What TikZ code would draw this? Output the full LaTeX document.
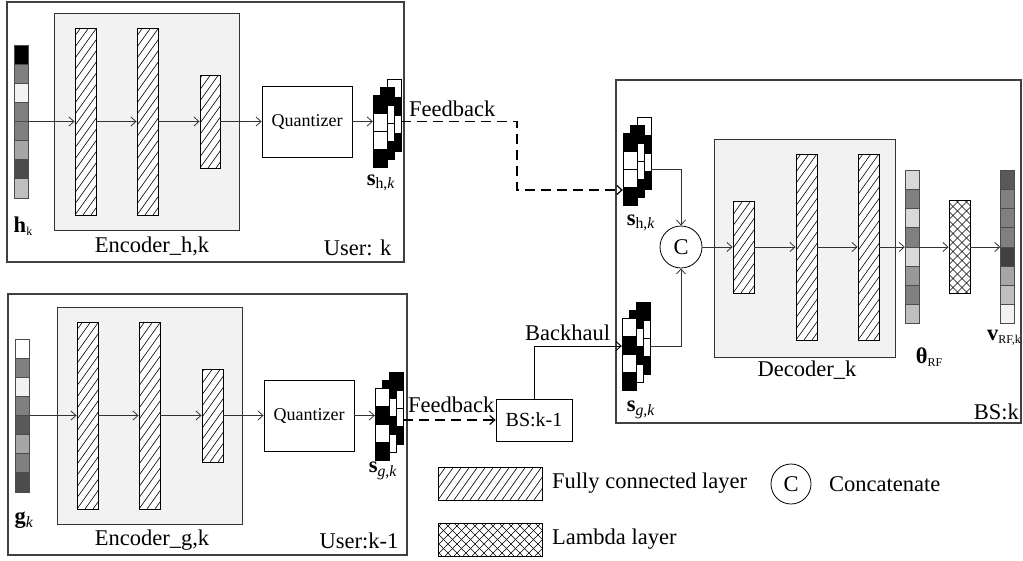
\documentclass[tikz,border=0pt]{standalone}
\usepackage{fontspec}
\setmainfont{Liberation Serif}
\usetikzlibrary{calc,arrows.meta}

% grey column vector: name, centre x, centre y, shades (percent black)
\newcommand{\graybar}[4]{%
    \node[bar] (#1) at (#2,#3) {};
    \foreach \s [count=\i from 0] in {#4}
        \filldraw[fill=black!\s, draw=black!70, line width=0.6pt]
            ($(#1.north west)+(0,{\i*19.125})$) rectangle ++(14,19.125);
}

% one column of a codeword: name, left x, top y, cells (0 = white, 100 = black)
\newcommand{\cwcol}[4]{%
    \node[cwcol] (#1) at ({#2+7},{#3+36}) {};
    \foreach \c [count=\i from 0] in {#4}
        \filldraw[fill=black!\c, draw=black, line width=0.6pt]
            ($(#1.north west)+(0,{\i*18})$) rectangle ++(14,18);
}

% stacked codeword: name, left x, top y, front, middle, back cells
\newcommand{\codeword}[6]{%
    \cwcol{#1b}{#2+14}{#3-16}{#6}
    \cwcol{#1m}{#2+7}{#3-8}{#5}
    \cwcol{#1}{#2}{#3}{#4}
}

\newcommand{\tinysub}[1]{\raisebox{-3pt}{\fontsize{12}{12}\selectfont #1}}

\begin{document}
\begin{tikzpicture}[
    x=1pt,
    y=-1pt,
    font=\fontsize{22.5}{26}\selectfont,
    frame/.style={
        draw=black!75,
        line width=1.3pt
    },
    encbox/.style={
        draw=black!80,
        fill=black!5,
        line width=0.9pt
    },
    fclayer/.style={
        draw=black,
        line width=0.9pt,
        inner sep=0pt,
        fill=white,
        path picture={
            \foreach \k in {0,...,40}
                \draw[line width=0.6pt]
                    ([xshift={\k*8-160}]path picture bounding box.south west)
                    -- ++(200,-280);
        }
    },
    lambdalayer/.style={
        draw=black,
        line width=0.9pt,
        inner sep=0pt,
        fill=white,
        path picture={
            \foreach \k in {0,...,40} {
                \draw[line width=0.6pt]
                    ([xshift={\k*9-200}]path picture bounding box.south west)
                    -- ++(200,-200);
                \draw[line width=0.6pt]
                    ([xshift={\k*9-200}]path picture bounding box.north west)
                    -- ++(200,200);
            }
        }
    },
    quant/.style={
        draw,
        line width=0.8pt,
        minimum width=90pt,
        minimum height=71pt,
        inner sep=0pt,
        font=\fontsize{18}{20}\selectfont
    },
    bar/.style={
        minimum width=14pt,
        minimum height=153pt,
        inner sep=0pt
    },
    cwcol/.style={
        minimum width=14pt,
        minimum height=72pt,
        inner sep=0pt
    },
    flow/.style={
        draw=black!80,
        line width=0.8pt,
        -{Straight Barb[length=5pt,width=9pt]}
    },
    fb/.style={
        flow,
        draw=black,
        line width=1.2pt,
        dash pattern=on 10pt off 6pt
    },
    catnode/.style={
        circle,
        draw,
        line width=0.8pt,
        minimum size=42pt,
        inner sep=0pt
    }
]

\useasboundingbox (0,0) rectangle (1023,560);

% -------------------------------------------------
% User k
% -------------------------------------------------

\draw[frame] (7,2) rectangle (404,262);
\draw[encbox] (54,13) rectangle (239,230);
\node at (152,246) {Encoder\_h,k};
\node[anchor=base east] at (395,255) {User: k};

\graybar{hk}{21}{121.5}{100,50,5,50,50,35,70,25}
\node (hklab) at (23,226) {\textbf{h}\tinysub{k}};

\node[fclayer, minimum width=21pt, minimum height=187pt] (eh1) at (85.5,121.5) {};
\node[fclayer, minimum width=21pt, minimum height=187pt] (eh2) at (147.5,121.5) {};
\node[fclayer, minimum width=20pt, minimum height=93pt] (eh3) at (210,121.5) {};
\node[quant] (qh) at (307,121.5) {Quantizer};

\codeword{cwh}{373}{95}{100,0,0,100}{100,0,0,100}{0,100,0,100}
\node (cwhlab) at (381,183) {\textbf{s}\textsubscript{h,\textit{k}}};

\draw[flow] (hk.east) -- (eh1.west);
\draw[flow] (eh1.east) -- (eh2.west);
\draw[flow] (eh2.east) -- (eh3.west);
\draw[flow] (eh3.east) -- (qh.west);
\draw[flow] (qh.east) -- (qh.east -| cwh.west);

% -------------------------------------------------
% User k-1
% -------------------------------------------------

\draw[frame] (8,294) rectangle (407,555);
\draw[encbox] (57,307) rectangle (242,524);
\node at (152,540) {Encoder\_g,k};
\node[anchor=base east] at (402,548) {User:k-1};

\graybar{gk}{22.5}{415.5}{0,50,5,50,65,35,50,70}
\node (gklab) at (24,520) {\textbf{g}\textsubscript{\textit{k}}};

\node[fclayer, minimum width=21pt, minimum height=187pt] (eg1) at (87.5,415.5) {};
\node[fclayer, minimum width=21pt, minimum height=187pt] (eg2) at (149.5,415.5) {};
\node[fclayer, minimum width=21pt, minimum height=93pt] (eg3) at (212.5,415.5) {};
\node[quant] (qg) at (309,415.5) {Quantizer};

\codeword{cwg}{375}{388}{0,100,0,100}{100,0,100,0}{100,0,0,100}
\node (cwglab) at (383,471) {\textbf{s}\textsubscript{\textit{g},\textit{k}}};

\draw[flow] (gk.east) -- (eg1.west);
\draw[flow] (eg1.east) -- (eg2.west);
\draw[flow] (eg2.east) -- (eg3.west);
\draw[flow] (eg3.east) -- (qg.west);
\draw[flow] (qg.east) -- (qg.east -| cwg.west);

% base station k-1
\node[draw, line width=0.8pt, minimum width=76pt, minimum height=42pt,
      inner sep=0pt, font=\fontsize{20}{22}\selectfont] (bsk1) at (534,420) {BS:k-1};

% -------------------------------------------------
% BS k
% -------------------------------------------------

\draw[frame] (616,80) rectangle (1021,423);
\node[anchor=base east, inner sep=1pt] at (1020,419) {BS:k};

\codeword{bsh}{623}{133}{100,0,0,100}{100,0,0,100}{0,100,0,100}
\node (bshlab) at (641,223) {\textbf{s}\textsubscript{h,\textit{k}}};

\codeword{bsg}{622}{318}{0,100,0,100}{100,0,100,0}{100,0,0,100}
\node (bsglab) at (641,410) {\textbf{s}\textsubscript{\textit{g},\textit{k}}};

\node[catnode] (cat) at (681,247) {C};

\draw[encbox] (714,139) rectangle (895,357);
\node at (807,370) {Decoder\_k};

\node[fclayer, minimum width=21pt, minimum height=92pt] (d1) at (743.5,247) {};
\node[fclayer, minimum width=21pt, minimum height=186pt] (d2) at (806.5,247) {};
\node[fclayer, minimum width=21pt, minimum height=186pt] (d3) at (868.5,247) {};

\graybar{theta}{912}{247}{15,50,15,50,15,40,50,25}
\node (thetalab) at (929,357) {\textbf{θ}\tinysub{RF}};

\node[lambdalayer, minimum width=21pt, minimum height=93pt] (lam) at (959.5,247) {};

\graybar{vrf}{1007.5}{247}{65,50,50,50,75,35,25,5}
\node (vrflab) at (1004,338) {\textbf{v}\tinysub{RF,k}};

\draw[flow] (bshb.east |- bsh) -| (cat.north);
\draw[flow] (bsgb.east |- bsgm) -| (cat.south);
\draw[flow] (cat.east) -- (d1.west);
\draw[flow] (d1.east) -- (d2.west);
\draw[flow] (d2.east) -- (d3.west);
\draw[flow] (d3.east) -- (theta.west);
\draw[flow] (theta.east) -- (lam.west);
\draw[flow] (lam.east) -- (vrf.west);

% -------------------------------------------------
% Feedback and backhaul links
% -------------------------------------------------

\coordinate (fbturn) at (517,121.5);
\draw[fb] (cwhb.east |- qh.east) -- (fbturn) |- ([yshift=-21pt]bsh.west);
\node[anchor=base west, inner sep=1pt] at (408,116) {Feedback};

\draw[fb] (cwgb.east |- bsk1) -- (bsk1.west);
\node[anchor=base west, inner sep=1pt] at (407,412) {Feedback};

\draw[flow, draw=black, line width=1pt] (bsk1.north) |- (bsg.west |- bsgm);
\node[anchor=base west, inner sep=1pt] at (524,340) {Backhaul};

% -------------------------------------------------
% Legend
% -------------------------------------------------

\node[fclayer, minimum width=104pt, minimum height=33pt] (legfc) at (490,483.5) {};
\node[anchor=west, inner sep=0pt] (legfctxt) at (552,483.5) {Fully connected layer};
\node[catnode, minimum size=40pt] (legcat) at (791,484) {C};
\node[anchor=west, inner sep=0pt] (legcattxt) at (829,484) {Concatenate};

\node[lambdalayer, minimum width=104pt, minimum height=33pt] (leglam) at (490,539.5) {};
\node[anchor=west, inner sep=0pt] (leglamtxt) at (552,539.5) {Lambda layer};

\end{tikzpicture}
\end{document}
